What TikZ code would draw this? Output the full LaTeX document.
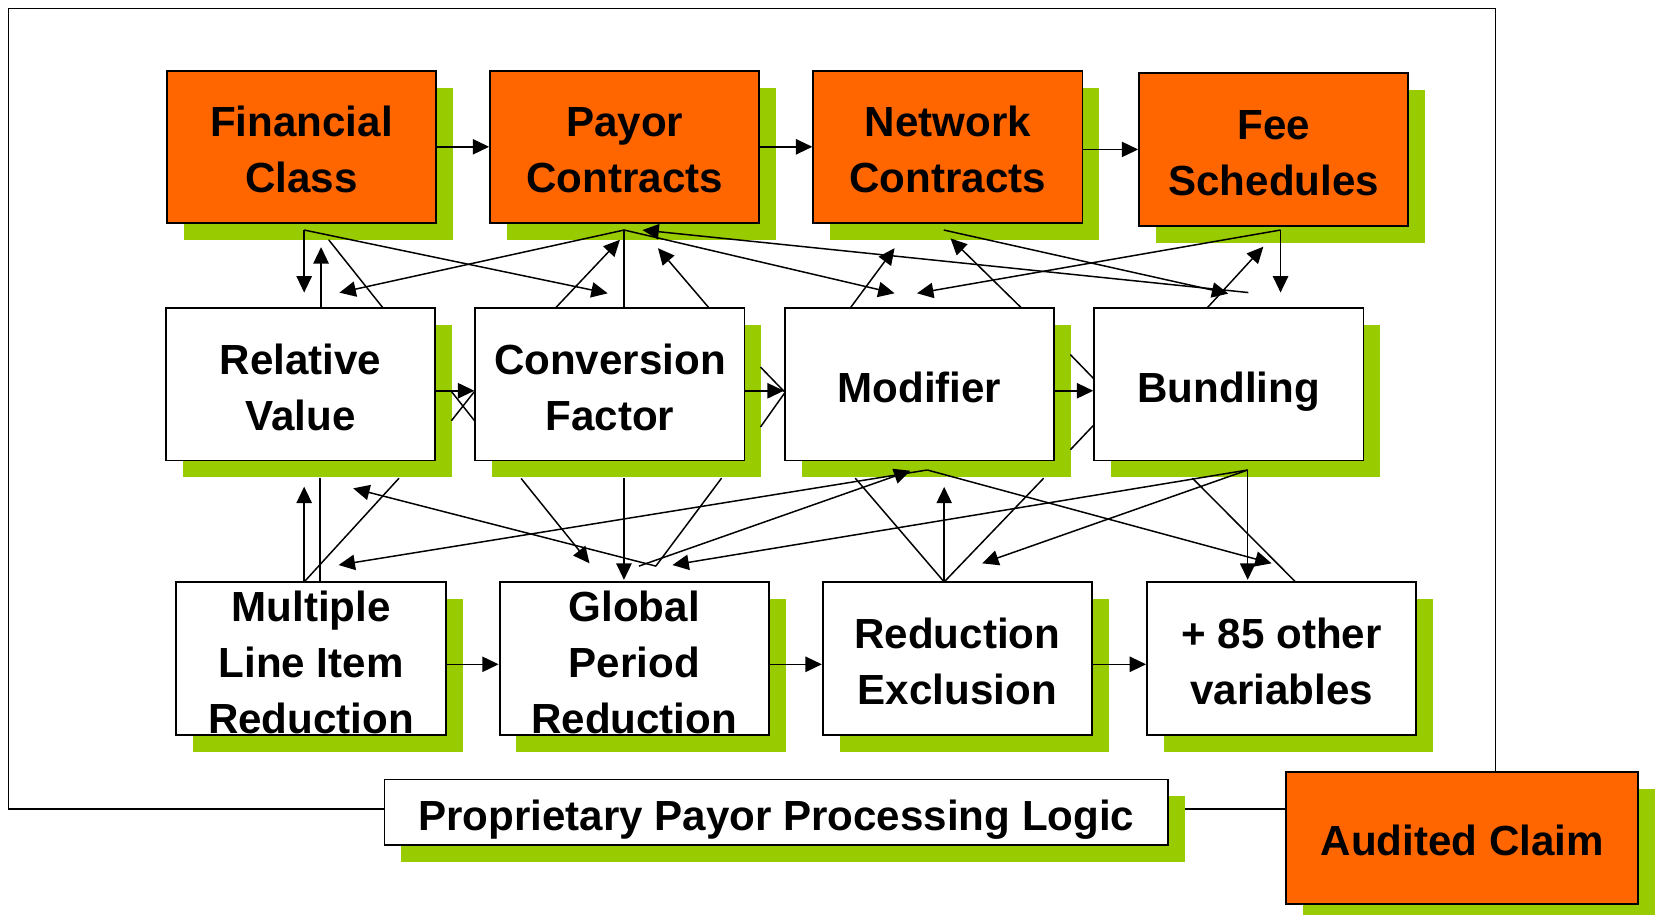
\documentclass[tikz,border=0pt]{standalone}
\usepackage{fontspec}
\setmainfont{Liberation Sans}
\usetikzlibrary{arrows.meta,shadows}
\definecolor{orng}{HTML}{FF6600}
\definecolor{shgreen}{HTML}{99CC00}
\newcommand\bxstrut{\rule[-5pt]{0pt}{29.3pt}}
\newcommand\bxstrutB{\rule[-0.8pt]{0pt}{21.8pt}}
\begin{document}
\begin{tikzpicture}[x=0.02cm,y=-0.02cm,
  box/.style={draw=black, line width=1pt, minimum width=5.1cm, minimum height=2.88cm,
    inner sep=0pt, align=center, font=\fontsize{22.7}{30.1}\selectfont\bfseries,
    general shadow={fill=shgreen, shadow xshift=0.32cm, shadow yshift=-0.32cm}},
  obox/.style={box, fill=orng},
  wbox/.style={box, fill=white},
  conn/.style={line width=0.8pt, line cap=round},
  arr/.style={line width=0.8pt, -{Triangle[length=0.31cm,width=0.29cm]}},
]
\useasboundingbox (0,0) rectangle (1568,866);
\clip (0,0) rectangle (1568,866);
\fill[white] (0,0) rectangle (1568,866);

% outer frame
\draw[line width=0.7pt] (8,8) rectangle (1416,766);

% top row
\node[obox] (fin) at (285.5,139) {\bxstrut Financial\\Class\bxstrut};
\node[obox] (pay) at (591.5,139) {\bxstrut Payor\\Contracts\bxstrut};
\node[obox] (net) at (897.5,139) {\bxstrut Network\\Contracts\bxstrut};
\node[obox, minimum height=2.9cm] (fee) at (1206,141.5) {\bxstrut Fee\\Schedules\bxstrut};
% middle row
\node[wbox] (rv)  at (284.5,364) {\bxstrut Relative\\Value\bxstrut};
\node[wbox] (cf)  at (577.5,364) {\bxstrut Conversion\\Factor\bxstrut};
\node[wbox] (mod) at (870.5,364) {\bxstrut Modifier};
\node[wbox] (bun) at (1163.5,364) {\bxstrut Bundling};
% bottom row
\node[wbox, minimum height=2.9cm] (ml)  at (294.5,623.5) {\bxstrutB Multiple\\Line Item\\Reduction\bxstrutB};
\node[wbox, minimum height=2.9cm] (gp)  at (600.5,623.5) {\bxstrutB Global\\Period\\Reduction\bxstrutB};
\node[wbox, minimum height=2.9cm] (re)  at (906.5,623.5) {\bxstrut Reduction\\Exclusion\bxstrut};
\node[wbox, minimum height=2.9cm] (oth) at (1213.5,623.5) {\bxstrut + 85 other\\variables\bxstrut};
% footer
\node[wbox, minimum width=14.84cm, minimum height=1.24cm] (ppl) at (735,769) {\bxstrut Proprietary Payor Processing Logic};
\node[obox, minimum width=6.66cm, minimum height=2.5cm] (aud) at (1384.5,793.5) {\bxstrut Audited Claim};

% horizontal arrows
\draw[arr] (fin.east) -- (pay.west);
\draw[arr] (pay.east) -- (net.west);
\draw[arr] (net.east |- fee.west) -- (fee.west);
\draw[arr] ([yshift=-0.12cm]rv.east) -- ([yshift=-0.12cm]rv.east -| cf.west);
\draw[arr] ([yshift=-0.12cm]cf.east) -- ([yshift=-0.12cm]cf.east -| mod.west);
\draw[arr] ([yshift=-0.12cm]mod.east) -- ([yshift=-0.12cm]mod.east -| bun.west);
\draw[arr] ([yshift=-0.11cm]ml.east) -- ([yshift=-0.11cm]ml.east -| gp.west);
\draw[arr] ([yshift=-0.11cm]gp.east) -- ([yshift=-0.11cm]gp.east -| re.west);
\draw[arr] ([yshift=-0.11cm]re.east) -- ([yshift=-0.11cm]re.east -| oth.west);

% gap fragments between middle boxes
\coordinate (g1a) at (427.7,371);   \coordinate (g1b) at (449,398);
\coordinate (g1c) at (427.7,398);   \coordinate (g1d) at (449,371);
\coordinate (g2a) at (720.3,347.8); \coordinate (g2b) at (742.7,370.9);
\coordinate (g2c) at (720.3,404);   \coordinate (g2d) at (742.7,372.4);
\coordinate (g3a) at (1013.8,336.1);\coordinate (g3b) at (1036.2,359.2);
\coordinate (g3c) at (1013.8,425.5);\coordinate (g3d) at (1036.2,401.8);
\draw[conn] (g1a) -- (g1b);
\draw[conn] (g1c) -- (g1d);
\draw[conn] (g2a) -- (g2b);
\draw[conn] (g2c) -- (g2d);
\draw[conn] (g3a) -- (g3b);
\draw[conn] (g3c) -- (g3d);

% top-to-middle connectors
\coordinate (finA) at (288,217.8);
\coordinate (payA) at (591,217.8);
\coordinate (netA) at (893.6,217.8);
\coordinate (feeA) at (1212.5,217.8);
\coordinate (rvT1) at (304,292);
\coordinate (rvT2) at (363,292);
\coordinate (cfT1) at (525.6,292);
\coordinate (cfT2) at (591,292);
\coordinate (cfT3) at (671.7,292);
\coordinate (modT1) at (804.8,292);
\coordinate (modT2) at (967.6,292);
\coordinate (bunT1) at (1142.6,292);
\coordinate (bunT0) at (1182,277);
\coordinate (tRV1) at (288,277);
\coordinate (tRV2) at (321.4,277.1);
\coordinate (tFin) at (304,234);
\coordinate (eFin) at (311.4,227.3);
\coordinate (tCF1) at (575.4,277.7);
\coordinate (tPay1) at (587,227);
\coordinate (tPay2) at (623,235);
\coordinate (tPay3) at (608.3,217.8);
\coordinate (tMod1) at (847,277.7);
\coordinate (tMod2) at (868.3,277.7);
\coordinate (tNet1) at (847,235);
\coordinate (tNet2) at (900,225.7);
\coordinate (tBun1) at (1163,278);
\coordinate (tBun2) at (1212.5,277);
\coordinate (tFee) at (1196.2,233.6);

\draw[arr] (finA) -- (tRV1);
\draw[arr] (finA) -- (tCF1);
\draw[arr] (rvT1) -- (tFin);
\draw[conn] (rvT2) -- (eFin);
\draw[arr] (payA) -- (tRV2);
\draw[conn] (payA) -- (cfT2);
\draw[arr] (cfT1) -- (tPay1);
\draw[arr] (cfT3) -- (tPay2);
\draw[arr] (bunT0) -- (tPay3);
\draw[arr] (payA) -- (tMod1);
\draw[arr] (modT1) -- (tNet1);
\draw[arr] (modT2) -- (tNet2);
\draw[arr] (netA) -- (tBun1);
\draw[arr] (bunT1) -- (tFee);
\draw[arr] (feeA) -- (tMod2);
\draw[arr] (feeA) -- (tBun2);

% middle-to-bottom connectors
\coordinate (modA) at (878,445);
\coordinate (bunA) at (1181.4,445);
\coordinate (rvB1) at (303,453);
\coordinate (rvB2) at (377.6,453);
\coordinate (cfB1) at (493.4,453);
\coordinate (cfB2) at (590.8,453);
\coordinate (cfB3) at (683,453);
\coordinate (modB1) at (810,453);
\coordinate (modB2) at (988,453);
\coordinate (bunB1) at (1129.3,453);
\coordinate (mlT) at (288,551);
\coordinate (mlT2) at (303,551);
\coordinate (gpV) at (621,536);
\coordinate (gpS) at (605,536);
\coordinate (reT) at (894,551);
\coordinate (othT) at (1226.7,551);
\coordinate (tRV3) at (288,460.8);
\coordinate (tRV4) at (334.4,462.4);
\coordinate (tML) at (320.6,535);
\coordinate (tGP1) at (558.2,533.4);
\coordinate (tGP2) at (590.8,549);
\coordinate (tGP3) at (636.7,535);
\coordinate (tMod3) at (862,445.7);
\coordinate (tMod4) at (894,461);
\coordinate (tRE) at (930,533.4);
\coordinate (tOth1) at (1181.4,549);
\coordinate (tOth2) at (1204,533.4);

\draw[conn] (rvB1) -- (mlT2);
\draw[arr] (mlT) -- (tRV3);
\draw[conn] (mlT) -- (rvB2);
\draw[arr] (gpV) -- (tRV4);
\draw[conn] (cfB3) -- (gpV);
\draw[arr] (modA) -- (tML);
\draw[arr] (gpS) -- (tMod3);
\draw[arr] (bunA) -- (tGP3);
\draw[arr] (cfB1) -- (tGP1);
\draw[arr] (cfB2) -- (tGP2);
\draw[arr] (modA) -- (tOth2);
\draw[arr] (bunA) -- (tRE);
\draw[arr] (bunA) -- (tOth1);
\draw[conn] (bunB1) -- (othT);
\draw[conn] (modB1) -- (reT);
\draw[conn] (modB2) -- (reT);
\draw[arr] (reT) -- (tMod4);
\end{tikzpicture}
\end{document}
